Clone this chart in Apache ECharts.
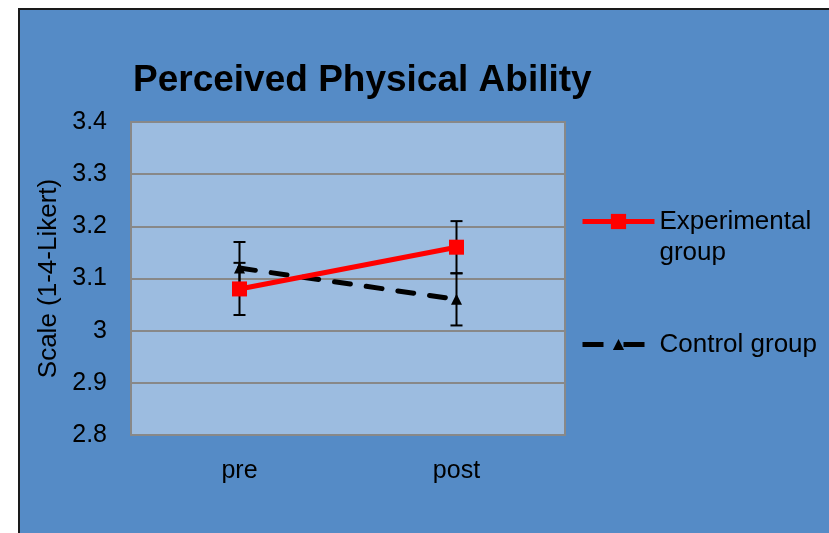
<!DOCTYPE html>
<html>
<head>
<meta charset="utf-8">
<script src="https://cdn.jsdelivr.net/npm/echarts@6/dist/echarts.min.js"></script>
<style>
  html, body { margin: 0; padding: 0; background: #fff; }
  #chart { width: 829px; height: 533px; }
</style>
</head>
<body>
<div id="chart"></div>
<script>
// data
const categories = ['pre', 'post']
const experimental = [3.08, 3.16]
const control = [3.12, 3.06]
const experimentalErr = [0.05, 0.05]
const controlErr = [0.05, 0.05]

const FONT = 'Arial, "Liberation Sans", sans-serif'

const mChart = echarts.init(document.getElementById('chart'))

// error bars: vertical line + two caps
const errorBars = (values, errs) => values.map((v, i) => [i, v, errs[i]])
const renderErrorBar = (params, api) => {
  const x = api.value(0)
  const y = api.value(1)
  const e = api.value(2)
  const hi = api.coord([x, y + e])
  const lo = api.coord([x, y - e])
  const w = 6
  const style = { stroke: '#000', lineWidth: 2 }
  return {
    type: 'group',
    children: [
      { type: 'line', shape: { x1: hi[0], y1: hi[1], x2: lo[0], y2: lo[1] }, style },
      { type: 'line', shape: { x1: hi[0] - w, y1: hi[1], x2: hi[0] + w, y2: hi[1] }, style },
      { type: 'line', shape: { x1: lo[0] - w, y1: lo[1], x2: lo[0] + w, y2: lo[1] }, style }
    ]
  }
}

const options = {
  backgroundColor: '#fff',
  animation: false,
  // outer chart area with dark border
  graphic: [
    {
      type: 'rect',
      z: -10,
      shape: { x: 19, y: 9, width: 830, height: 540 },
      style: { fill: '#558BC6', stroke: '#1a1a1a', lineWidth: 2 }
    }
  ],
  title: {
    text: 'Perceived Physical Ability',
    left: 133,
    top: 62,
    padding: 0,
    textStyle: { fontFamily: FONT, fontSize: 37, fontWeight: 'bold', color: '#000' }
  },
  legend: [
    {
      data: ['Experimental group'],
      left: 580,
      top: 175,
      padding: 0,
      itemWidth: 72,
      itemHeight: 19,
      // leading empty line keeps the icon beside the first text line
      formatter: name => '\n' + name.replace(' group', '\ngroup'),
      lineStyle: { width: 5 },
      textStyle: { fontFamily: FONT, fontSize: 26, color: '#000', lineHeight: 31 }
    },
    {
      data: ['Control group'],
      left: 580,
      top: 329,
      padding: 0,
      itemWidth: 72,
      itemHeight: 14,
      lineStyle: { width: 5, type: [21, 20], cap: 'butt' },
      textStyle: { fontFamily: FONT, fontSize: 26, color: '#000', lineHeight: 31 }
    }
  ],
  grid: {
    left: 131,
    right: 264,
    top: 122,
    bottom: 98,
    show: true,
    backgroundColor: '#9CBCE0',
    borderColor: '#888',
    borderWidth: 2
  },
  xAxis: {
    type: 'category',
    data: categories,
    boundaryGap: true,
    axisTick: { show: false },
    axisLine: { lineStyle: { color: '#888', width: 2 } },
    axisLabel: { fontFamily: FONT, fontSize: 25, color: '#000', margin: 24 }
  },
  yAxis: {
    type: 'value',
    min: 2.8,
    max: 3.4,
    interval: 0.1,
    name: 'Scale (1-4-Likert)',
    nameLocation: 'middle',
    nameRotate: 90,
    nameGap: 64,
    nameTextStyle: { fontFamily: FONT, fontSize: 26, color: '#000' },
    axisLine: { show: false },
    axisTick: { show: false },
    axisLabel: {
      fontFamily: FONT, fontSize: 25, color: '#000', margin: 24,
      formatter: v => String(Math.round(v * 10) / 10)
    },
    splitLine: { lineStyle: { color: '#888', width: 2 } }
  },
  series: [
    {
      name: 'Experimental group',
      type: 'line',
      z: 4,
      data: experimental,
      symbol: 'rect',
      symbolSize: 15,
      color: '#FF0000',
      lineStyle: { color: '#FF0000', width: 5 },
      itemStyle: { color: '#FF0000' }
    },
    {
      name: 'Control group',
      type: 'line',
      z: 3,
      data: control,
      symbol: 'triangle',
      symbolSize: 11,
      color: '#000',
      lineStyle: { color: '#000', width: 5, type: [16, 16], cap: 'round' },
      itemStyle: { color: '#000' }
    },
    {
      name: 'err-exp',
      type: 'custom',
      z: 2,
      silent: true,
      renderItem: renderErrorBar,
      encode: { x: 0, y: 1 },
      data: errorBars(experimental, experimentalErr)
    },
    {
      name: 'err-ctrl',
      type: 'custom',
      z: 2,
      silent: true,
      renderItem: renderErrorBar,
      encode: { x: 0, y: 1 },
      data: errorBars(control, controlErr)
    }
  ]
}
mChart.setOption(options)
</script>
</body>
</html>
